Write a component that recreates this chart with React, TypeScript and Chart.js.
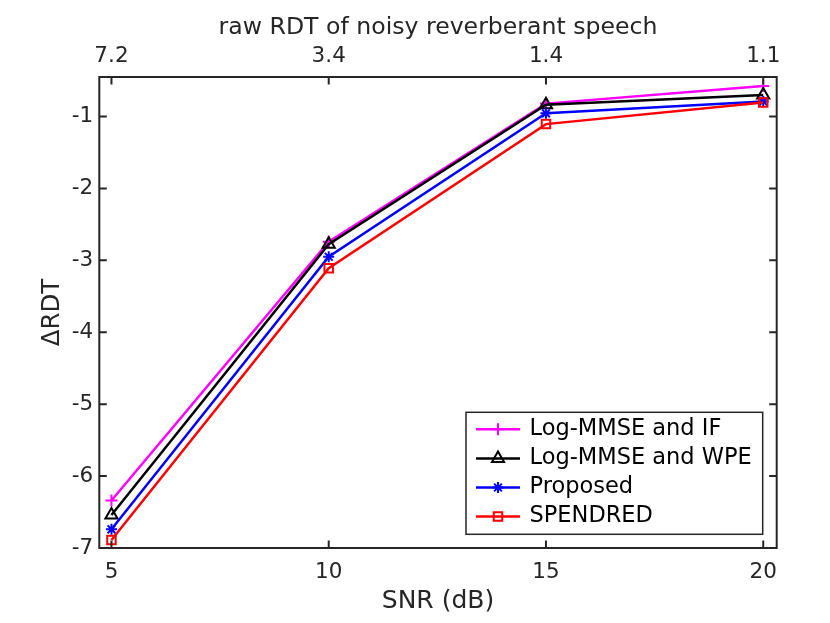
import React, { useEffect, useRef } from "react";
import { Chart, registerables } from "chart.js";

Chart.register(...registerables);

// ---- data ----
const snrValues = [5, 10, 15, 20];
const rawRdtLabels = ["7.2", "3.4", "1.4", "1.1"];
const yTickValues = [-7, -6, -5, -4, -3, -2, -1];

const logMmseIf = [-6.34, -2.74, -0.82, -0.575];
const logMmseWpe = [-6.54, -2.775, -0.835, -0.7];
const proposed = [-6.74, -2.95, -0.955, -0.79];
const spendred = [-6.89, -3.11, -1.105, -0.805];

const seriesNames = ["Log-MMSE and IF", "Log-MMSE and WPE", "Proposed", "SPENDRED"];
const seriesColors = ["#ff00ff", "#000000", "#0000ff", "#ff0000"];
const seriesMarkers = ["cross", "triangle", "star", "rect"];
const seriesRadius = [6, 7, 5.5, 6];
const seriesValues = [logMmseIf, logMmseWpe, proposed, spendred];

const FONT = "'DejaVu Sans', 'Liberation Sans', sans-serif";
const AXIS_COLOR = "#262626";

function drawMarker(ctx: CanvasRenderingContext2D, style: string, x: number, y: number, r: number) {
  ctx.beginPath();
  if (style === "cross") {
    ctx.moveTo(x, y - r); ctx.lineTo(x, y + r);
    ctx.moveTo(x - r, y); ctx.lineTo(x + r, y);
  } else if (style === "triangle") {
    ctx.moveTo(x, y - r);
    ctx.lineTo(x + r * Math.sin(2 * Math.PI / 3), y - r * Math.cos(2 * Math.PI / 3));
    ctx.lineTo(x + r * Math.sin(4 * Math.PI / 3), y - r * Math.cos(4 * Math.PI / 3));
    ctx.closePath();
  } else if (style === "star") {
    const d = r * Math.SQRT1_2;
    ctx.moveTo(x, y - r); ctx.lineTo(x, y + r);
    ctx.moveTo(x - r, y); ctx.lineTo(x + r, y);
    ctx.moveTo(x - d, y - d); ctx.lineTo(x + d, y + d);
    ctx.moveTo(x - d, y + d); ctx.lineTo(x + d, y - d);
  } else if (style === "rect") {
    const s = r * Math.SQRT1_2;
    ctx.rect(x - s, y - s, 2 * s, 2 * s);
  }
  ctx.stroke();
}

const framePlugin = {
  id: "matlabFrame",
  afterDraw(chart: any) {
    const { ctx, chartArea: a, scales } = chart;
    ctx.save();
    // axes box
    ctx.strokeStyle = AXIS_COLOR;
    ctx.lineWidth = 2;
    ctx.strokeRect(a.left, a.top, a.right - a.left, a.bottom - a.top);
    // inward ticks
    const tl = 7.5;
    ctx.beginPath();
    for (const v of snrValues) {
      const px = scales.x.getPixelForValue(v);
      ctx.moveTo(px, a.bottom); ctx.lineTo(px, a.bottom - tl);
      ctx.moveTo(px, a.top); ctx.lineTo(px, a.top + tl);
    }
    for (const v of yTickValues) {
      const py = scales.y.getPixelForValue(v);
      ctx.moveTo(a.left, py); ctx.lineTo(a.left + tl, py);
      ctx.moveTo(a.right, py); ctx.lineTo(a.right - tl, py);
    }
    ctx.stroke();

    // legend
    const w = 296.7, h = 122;
    const lx = a.right - 14 - w;
    const ly = a.bottom - 13.7 - h;
    ctx.fillStyle = "#ffffff";
    ctx.fillRect(lx, ly, w, h);
    ctx.lineWidth = 1.5;
    ctx.strokeStyle = AXIS_COLOR;
    ctx.strokeRect(lx, ly, w, h);
    ctx.font = `22.5px ${FONT}`;
    ctx.textBaseline = "middle";
    ctx.textAlign = "left";
    chart.data.datasets.forEach((ds: any, i: number) => {
      const ry = ly + 17 + i * 29.1;
      ctx.strokeStyle = ds.borderColor;
      ctx.lineWidth = 2.5;
      ctx.beginPath();
      ctx.moveTo(lx + 10, ry);
      ctx.lineTo(lx + 54, ry);
      ctx.stroke();
      ctx.lineWidth = 2;
      drawMarker(ctx, ds.pointStyle, lx + 32, ry, ds.pointRadius);
      ctx.fillStyle = "#000000";
      ctx.fillText(ds.label, lx + 63.5, ry);
    });
    ctx.restore();
  },
};

function fixSize(w?: number, h?: number) {
  return (s: any) => {
    if (w !== undefined) s.width = w;
    if (h !== undefined) s.height = h;
    s.paddingLeft = 0;
    s.paddingRight = 0;
    s.paddingTop = 0;
    s.paddingBottom = 0;
  };
}

const X_MIN = 4.72;
const X_MAX = 20.31;
const Y_MIN = -7;
const Y_MAX = -0.45;

export default function App() {
  const canvasRef = useRef<HTMLCanvasElement | null>(null);

  useEffect(() => {
    if (!canvasRef.current) return;
    const datasets = seriesNames.map((name, i) => ({
      label: name,
      data: snrValues.map((x, j) => ({ x, y: seriesValues[i][j] })),
      borderColor: seriesColors[i],
      backgroundColor: "rgba(0,0,0,0)",
      pointBackgroundColor: "rgba(0,0,0,0)",
      pointBorderColor: seriesColors[i],
      pointStyle: seriesMarkers[i],
      pointRadius: seriesRadius[i],
      pointBorderWidth: 2,
      borderWidth: 2.5,
      tension: 0,
      xAxisID: "x",
      yAxisID: "y",
      order: seriesNames.length - i,
      clip: false,
    }));

    const chart = new Chart(canvasRef.current, {
      type: "line",
      data: { datasets } as any,
      options: {
        animation: false,
        responsive: false,
        layout: { padding: 0 },
        plugins: {
          legend: { display: false },
          tooltip: { enabled: false },
        },
        scales: {
          x: {
            type: "linear",
            axis: "x",
            position: "bottom",
            min: X_MIN,
            max: X_MAX,
            afterBuildTicks: (s: any) => {
              s.ticks = snrValues.map((v) => ({ value: v }));
            },
            ticks: {
              autoSkip: false,
              maxRotation: 0,
              padding: 11.6,
              color: AXIS_COLOR,
              font: { family: FONT, size: 21.5 },
              callback: (v: any) => String(v),
            },
            grid: { display: false, drawTicks: false },
            border: { display: false },
            title: {
              display: true,
              text: "SNR (dB)",
              color: AXIS_COLOR,
              font: { family: FONT, size: 25 },
              padding: { top: 0, bottom: 7 },
            },
            afterFit: fixSize(undefined, 75),
          },
          x2: {
            type: "linear",
            axis: "x",
            position: "top",
            min: X_MIN,
            max: X_MAX,
            afterBuildTicks: (s: any) => {
              s.ticks = snrValues.map((v) => ({ value: v }));
            },
            ticks: {
              autoSkip: false,
              maxRotation: 0,
              padding: 7.5,
              color: AXIS_COLOR,
              font: { family: FONT, size: 21.5 },
              callback: (_v: any, i: number) => rawRdtLabels[i],
            },
            grid: { display: false, drawTicks: false },
            border: { display: false },
            title: {
              display: true,
              text: "raw RDT of noisy reverberant speech",
              color: AXIS_COLOR,
              font: { family: FONT, size: 23.6 },
              padding: { top: 14.1, bottom: 0 },
            },
            afterFit: fixSize(undefined, 77),
          },
          y: {
            type: "linear",
            axis: "y",
            position: "left",
            min: Y_MIN,
            max: Y_MAX,
            afterBuildTicks: (s: any) => {
              s.ticks = yTickValues.map((v) => ({ value: v }));
            },
            ticks: {
              autoSkip: false,
              padding: 6,
              color: AXIS_COLOR,
              font: { family: FONT, size: 21.5 },
              callback: (v: any) => String(v),
            },
            grid: { display: false, drawTicks: false },
            border: { display: false },
            title: {
              display: true,
              text: "\u0394RDT",
              color: AXIS_COLOR,
              font: { family: FONT, size: 24.5 },
              padding: { top: 37.8, bottom: 0 },
            },
            afterFit: fixSize(99.3, undefined),
          },
          y2: {
            type: "linear",
            axis: "y",
            position: "right",
            min: Y_MIN,
            max: Y_MAX,
            ticks: { display: false },
            grid: { display: false, drawTicks: false },
            border: { display: false },
            afterFit: fixSize(830 - 776.7, undefined),
          },
        },
      } as any,
      plugins: [framePlugin],
    });
    return () => chart.destroy();
  }, []);

  return (
    <div style={{ position: "absolute", left: 0, top: 0, width: 830, height: 623, background: "#fff" }}>
      <canvas ref={canvasRef} width={830} height={623} style={{ display: "block", width: 830, height: 623 }} />
    </div>
  );
}
